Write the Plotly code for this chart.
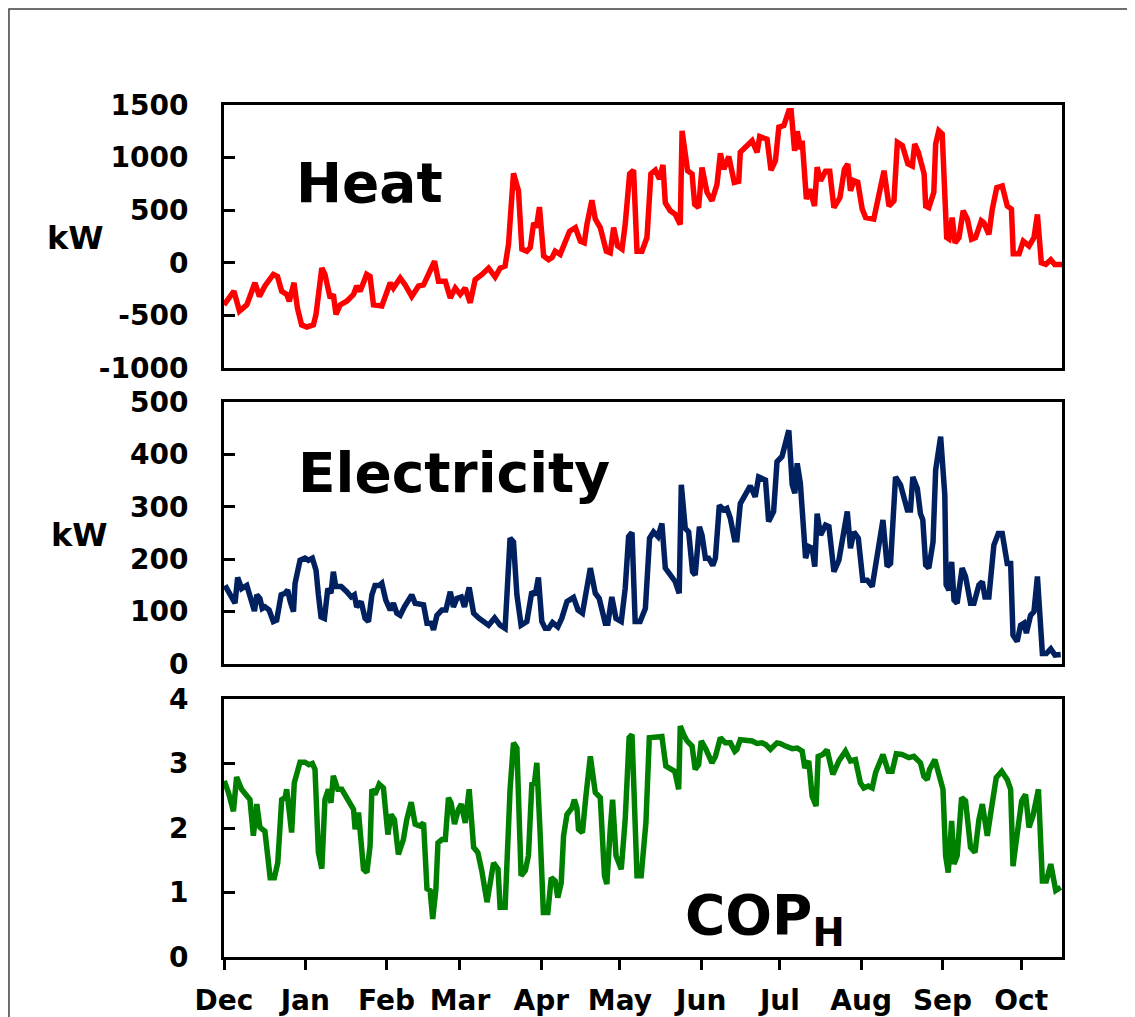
import pandas as pd
import plotly.graph_objects as go

# ---------------- data ----------------
start_date = "2012-12-01"
end_date = "2013-10-16 14:00"
month_starts = ["2012-12-01", "2013-01-01", "2013-02-01", "2013-03-01", "2013-04-01",
                "2013-05-01", "2013-06-01", "2013-07-01", "2013-08-01", "2013-09-01",
                "2013-10-01"]
month_labels = ["Dec", "Jan", "Feb", "Mar", "Apr", "May", "Jun", "Jul", "Aug", "Sep", "Oct"]

heat_day = [0, 3.8, 5.9, 8.7, 11.8, 13.5, 15.6, 18.8, 20.4, 22, 23.9, 24.9, 26.7, 28, 29.6, 31.6,
            34.1, 35.1, 37.3, 38.5, 40.5, 41.7, 42.7, 44.3, 46.8, 49.4, 50.6, 51.9, 54.4, 55.7, 57,
            60.2, 63.4, 64.6, 67.2, 69.1, 71.6, 74.2, 76.1, 78, 80.3, 81.8, 84.4, 86.3, 88.2, 90.1,
            92, 93.9, 95.8, 98.4, 100.9, 103.4, 105.3, 107.2, 108.5, 110.4, 112.3, 113.6, 115.5,
            116.8, 118.1, 119.1, 120.3, 121.9, 123.8, 125.1, 126.3, 128.2, 130.1, 131.8, 134,
            135.9, 137.4, 138.4, 140.3, 141.6, 143.5, 145.8, 147.3, 148.6, 150.1, 151.8, 153,
            154.7, 156.2, 157.5, 159.4, 161.3, 162.8, 164.5, 166.1, 167.4, 168.3, 170.2, 172.1,
            174, 174.7, 176.8, 178.5, 179.5, 181, 182.3, 184.2, 186.1, 188, 189.3, 190.6, 192.5,
            194.6, 196.3, 196.9, 198.8, 201.4, 203.3, 204.3, 207.1, 208.6, 210.3, 211.6, 213.5,
            215.4, 216.3, 217.6, 218.6, 219.9, 220.5, 222.1, 223.4, 224.3, 225.2, 226.2, 227.5,
            229.4, 231, 232.6, 234.9, 236.6, 237.9, 238.9, 240.2, 241.7, 243.4, 244.7, 246.6,
            247.8, 249.8, 251.7, 253.6, 255.5, 256.8, 258.7, 260.8, 262.5, 263.4, 264.8, 267,
            267.6, 268.8, 270.7, 271.4, 272.6, 273.9, 275.6, 276.5, 277.7, 278.8, 280.3, 281.9,
            283.5, 285.1, 286.6, 288.8, 289.8, 291.7, 293, 294.7, 296.8, 298.7, 300.3, 301,
            303.2, 304.8, 307, 308.9, 310.2, 311.7, 313.4, 315.3, 316.8, 319.7]
heat_kw = [-400, -270, -460, -400, -190, -320, -220, -110, -130, -270, -300, -365, -190, -430,
           -590, -610, -590, -490, -50, -110, -335, -300, -490, -400, -365, -300, -220, -270,
           -110, -130, -400, -410, -190, -240, -145, -210, -320, -220, -210, -110, 15, -175,
           -175, -335, -240, -300, -240, -380, -160, -110, -50, -135, -50, -30, 175, 850, 685,
           130, 110, 145, 380, 335, 530, 65, 30, 50, 110, 80, 190, 300, 335, 205, 190, 365, 595,
           415, 335, 110, 95, 335, 160, 130, 365, 845, 880, 110, 110, 240, 845, 880, 795, 930,
           570, 495, 460, 365, 1255, 875, 845, 555, 525, 905, 670, 590, 745, 1040, 890, 1010,
           765, 775, 1050, 1095, 1160, 1050, 1200, 1175, 880, 970, 1290, 1305, 1445, 1445, 1065,
           1250, 1080, 1160, 605, 700, 620, 540, 910, 780, 870, 870, 525, 620, 890, 940, 685,
           780, 765, 510, 430, 415, 415, 650, 875, 540, 590, 1145, 1115, 940, 920, 1130, 1050,
           845, 540, 525, 670, 1130, 1255, 1225, 240, 225, 430, 190, 240, 495, 415, 225, 240,
           400, 380, 270, 510, 715, 730, 540, 510, 85, 85, 205, 160, 240, 460, 0, -15, 30, -15,
           -15]

elec_day = [0.4, 2.3, 4.2, 5.2, 6.7, 8.7, 9.9, 11.6, 12.5, 13.7, 14.6, 15.6, 17.2, 18.8, 20.1,
            21.8, 23.3, 24.3, 25.2, 26.5, 27.1, 29, 30.9, 32.2, 33.7, 35.1, 36, 37, 38.3, 39.6,
            40.8, 41.7, 42.6, 44.7, 46.8, 48.5, 49.7, 50.6, 52.3, 53.8, 55.1, 56.4, 57.6, 59.3,
            60.2, 61.7, 63.4, 64.6, 65.9, 67.2, 68.8, 71.6, 72.9, 76.1, 77.4, 79, 79.9, 81.2,
            83.1, 84.6, 86.3, 87.5, 88.8, 90.5, 91.7, 93.5, 95.2, 97.1, 100.9, 103.2, 105.3,
            107.2, 109.1, 110.4, 111.7, 113.3, 115.5, 117.4, 118.7, 119.9, 121.2, 122.5, 123.8,
            125.3, 127.3, 128.8, 130.8, 133.3, 135, 136.7, 139.7, 141.6, 143.1, 145.4, 146.4,
            147.9, 149.5, 151.5, 153, 154.3, 155.6, 156.8, 158.7, 160.7, 162.3, 163.8, 165.5,
            167, 168.3, 170.6, 172.1, 173.6, 174.4, 175.9, 177.2, 178.7, 179.7, 181.3, 182.3,
            183.6, 184.8, 186.4, 187.4, 188.9, 190.5, 191.8, 193.1, 194.7, 195.6, 196.9, 198.8,
            200.7, 202.6, 203.9, 206.5, 207.7, 209.6, 210.9, 212.8, 214.1, 215.4, 216.7, 217.7,
            218.6, 219.8, 221.8, 223, 224.3, 225.3, 226.2, 227.5, 229.4, 230.7, 232.6, 234.5,
            237.7, 238.9, 240.2, 241.9, 243.6, 245.3, 247.2, 249.1, 251.3, 252.9, 254.2, 256.1,
            258, 260.6, 261.8, 262.7, 264.4, 265.6, 266.5, 267.6, 268.8, 270.4, 271.4, 273.3,
            274.9, 275.4, 276.5, 277.5, 278.4, 279.6, 281.5, 282.8, 284.7, 286, 287.9, 289.2,
            290.2, 291.7, 293.6, 295.3, 296.8, 298.7, 300, 300.9, 302.5, 303.8, 305.1, 306,
            307.6, 308.9, 310.2, 312.1, 313.6, 315.3, 316.9, 319.1]
elec_kw = [150, 132, 116, 165, 144, 150, 132, 101, 132, 125, 106, 109, 103, 81, 84, 132, 135,
           141, 120, 100, 154, 198, 202, 198, 202, 179, 132, 90, 87, 144, 135, 176, 148, 148,
           138, 128, 132, 109, 119, 87, 81, 132, 150, 150, 154, 122, 103, 116, 97, 93, 109, 132,
           116, 113, 78, 78, 65, 93, 103, 103, 138, 109, 125, 128, 109, 146, 97, 88, 74, 88, 74,
           68, 240, 233, 132, 74, 81, 138, 132, 165, 81, 68, 68, 79, 71, 87, 119, 127, 103, 97,
           183, 135, 125, 78, 78, 128, 87, 81, 144, 243, 251, 81, 81, 106, 240, 252, 243, 268,
           183, 165, 157, 135, 342, 259, 252, 176, 170, 262, 246, 202, 202, 188, 202, 303, 294,
           297, 278, 237, 237, 306, 322, 340, 319, 357, 351, 272, 291, 386, 396, 424, 446, 342,
           326, 383, 345, 202, 224, 221, 186, 287, 246, 265, 262, 176, 198, 291, 221, 252, 240,
           160, 160, 148, 208, 275, 186, 192, 357, 342, 294, 294, 357, 335, 287, 275, 189, 183,
           233, 370, 434, 322, 151, 141, 195, 122, 116, 183, 167, 116, 116, 151, 157, 128, 128,
           227, 249, 249, 192, 192, 55, 43, 74, 78, 59, 93, 100, 167, 20, 20, 29, 17, 18]

cop_day = [0.1, 1.7, 3.6, 4.8, 6.7, 8.7, 9.9, 11.2, 12.5, 13.7, 15.6, 17.6, 19.2, 20.5, 21.4,
           22, 23.3, 23.9, 25.8, 26.8, 29, 30.9, 32.4, 33.7, 34.7, 36, 37.3, 38.5, 39.8, 40.8,
           41.7, 43.4, 44.9, 46.8, 48.1, 49.4, 50, 51.3, 53.2, 54.5, 55.7, 56.4, 57.6, 59.2, 60.8,
           62.5, 63.7, 65, 66.5, 68.4, 69.7, 71.4, 72.9, 74.8, 76.1, 77.4, 78.6, 79.6, 80.8, 81.6,
           83.1, 84.4, 85.6, 86.6, 87.9, 89.4, 90.5, 92, 93.5, 95.2, 96.8, 98.3, 100.3, 101.5,
           102.8, 104.5, 105.3, 107.2, 109.1, 110.4, 111.7, 113.3, 114.9, 116.1, 117.4, 118.4,
           119.3, 120.6, 121.8, 123.5, 124.8, 126.3, 127.3, 128.6, 129.5, 130.8, 132.7, 133.6,
           134.6, 135.2, 136.7, 138, 139.7, 141.6, 143.5, 145.1, 146, 147.3, 148.2, 149.5, 151.5,
           153, 154.5, 155.6, 157.5, 159.1, 160.9, 162.2, 163.8, 165.5, 167, 168.5, 170.2, 171.9,
           173.4, 174, 175.3, 176.6, 178.5, 179.7, 181, 182, 183.8, 186.1, 187.4, 189.3, 191.2,
           193.1, 194.8, 195.6, 196.9, 199.5, 201.4, 203.3, 205.2, 206.7, 208.4, 210.9, 212.2,
           214.1, 216.7, 218.6, 220.5, 221.5, 223, 224.3, 225.8, 226.6, 228.4, 230, 232.2, 234.5,
           237, 238.9, 240.8, 242.7, 244, 245.7, 247.2, 248.5, 251.3, 253.3, 254.8, 256.4, 258.6,
           261.2, 263.1, 265.6, 266.9, 268.2, 269.1, 271.1, 272.6, 274.2, 275.2, 276.2, 277.5,
           278.4, 279.6, 281.3, 282.8, 284.7, 286.4, 287.9, 289.2, 291.1, 292.7, 294.5, 296.6,
           298.7, 300, 300.9, 302.2, 304.2, 305.7, 307, 308.5, 310.6, 312.1, 313.6, 315.3, 317.2,
           319.1]
cop_val = [2.73, 2.55, 2.26, 2.79, 2.60, 2.49, 2.44, 1.88, 2.37, 2.01, 1.95, 1.23, 1.23, 1.46,
           1.98, 2.44, 2.47, 2.60, 1.93, 2.70, 3.02, 3.02, 2.98, 3.00, 2.91, 1.62, 1.37, 2.44,
           2.60, 2.39, 2.81, 2.60, 2.60, 2.47, 2.39, 2.29, 1.98, 2.24, 1.36, 1.31, 1.72, 2.60,
           2.52, 2.68, 2.62, 1.90, 2.21, 2.13, 1.59, 1.82, 2.13, 2.40, 2.06, 2.03, 2.08, 1.06,
           1.03, 0.59, 1.05, 1.77, 1.82, 1.82, 2.47, 2.39, 2.06, 2.29, 2.37, 2.08, 2.60, 1.70,
           1.62, 1.34, 0.85, 1.21, 1.46, 1.36, 0.77, 0.77, 2.60, 3.32, 3.24, 1.26, 1.34, 1.57,
           2.68, 2.70, 3.01, 1.88, 0.69, 0.69, 1.23, 1.18, 0.92, 1.15, 1.88, 2.21, 2.31, 2.44,
           2.31, 1.98, 1.93, 2.49, 3.11, 2.55, 2.47, 1.26, 1.13, 1.98, 2.44, 1.57, 1.36, 2.13,
           3.40, 3.45, 1.26, 1.26, 2.08, 3.40, 3.40, 3.40, 3.42, 2.96, 2.91, 2.88, 2.60, 3.58,
           3.45, 3.35, 3.27, 2.91, 2.98, 3.35, 3.22, 3.01, 3.11, 3.40, 3.32, 3.32, 3.19, 3.22,
           3.37, 3.35, 3.35, 3.31, 3.32, 3.29, 3.22, 3.32, 3.31, 3.27, 3.23, 3.24, 3.19, 2.93,
           3.04, 2.49, 2.34, 3.11, 3.14, 3.21, 2.83, 3.04, 3.19, 3.04, 3.06, 2.70, 2.62, 2.65,
           2.62, 2.86, 3.14, 2.88, 2.88, 3.15, 3.14, 3.09, 3.11, 3.01, 2.80, 2.75, 2.91, 3.06,
           2.86, 2.60, 1.57, 1.31, 2.11, 1.44, 1.57, 2.47, 2.42, 1.70, 1.62, 2.13, 2.37, 1.88,
           2.31, 2.78, 2.88, 2.75, 2.60, 1.41, 1.82, 2.42, 2.52, 2.01, 2.19, 2.60, 1.18, 1.18,
           1.44, 1.03, 1.08]

heat_ticks = [-1000, -500, 0, 500, 1000, 1500]
heat_tick_labels = ["-1000", "-500", "0", "500", "1000", "1500"]
elec_ticks = [0, 100, 200, 300, 400, 500]
cop_ticks = [0, 1, 2, 3, 4]


def to_dates(days):
    return pd.Timestamp(start_date) + pd.to_timedelta(days, unit="D")


FONT = "DejaVu Sans"
tickfont = dict(family=FONT, size=28, color="black", weight="bold")
LW = 5.5

fig = go.Figure()
fig.add_trace(go.Scatter(x=to_dates(heat_day), y=heat_kw, mode="lines",
                         line=dict(color="#FF0000", width=LW), xaxis="x", yaxis="y",
                         showlegend=False))
fig.add_trace(go.Scatter(x=to_dates(elec_day), y=elec_kw, mode="lines",
                         line=dict(color="#002060", width=LW), xaxis="x2", yaxis="y2",
                         showlegend=False))
fig.add_trace(go.Scatter(x=to_dates(cop_day), y=cop_val, mode="lines",
                         line=dict(color="#008000", width=LW), xaxis="x3", yaxis="y3",
                         showlegend=False))

frame = dict(showline=True, mirror=True, linewidth=3, linecolor="black",
             showgrid=False, zeroline=False, automargin=False)
xr = [start_date, end_date]
xcommon = dict(type="date", range=xr, **frame)


def yaxis(domain, rng, ticks, labels=None):
    d = dict(domain=domain, range=rng, tickvals=ticks, ticks="inside", ticklen=11,
             tickwidth=3, tickcolor="black", tickfont=tickfont, ticklabelstandoff=27,
             **frame)
    if labels is not None:
        d["ticktext"] = labels
    return d


# the page body adds an 8 px offset, so the figure is 8 px smaller and margins shifted
fig.update_layout(
    width=1127, height=1009, autosize=False,
    margin=dict(l=216, r=73, t=97, b=60),
    paper_bgcolor="white", plot_bgcolor="white",
    xaxis=dict(anchor="y", showticklabels=False, ticks="", **xcommon),
    xaxis2=dict(anchor="y2", showticklabels=False, ticks="", matches="x", **xcommon),
    xaxis3=dict(anchor="y3", matches="x", tickvals=month_starts, ticktext=month_labels,
                ticks="outside", ticklen=10, tickwidth=3, tickcolor="black",
                tickfont=tickfont, ticklabelstandoff=6, **xcommon),
    yaxis=yaxis([0.6913, 1.0], [-1000, 1500], heat_ticks, heat_tick_labels),
    yaxis2=yaxis([0.3439, 0.6514], [0, 500], elec_ticks),
    yaxis3=yaxis([0.0, 0.3028], [0, 4], cop_ticks),
)

big = dict(family=FONT, size=55, color="black", weight="bold")
unit = dict(family=FONT, size=32, color="black", weight="bold")
fig.add_annotation(text="Heat", x=0.1742, y=0.9085, xref="paper", yref="paper",
                   xanchor="center", yanchor="middle", showarrow=False, font=big)
fig.add_annotation(text="Electricity", x=0.2745, y=0.568, xref="paper", yref="paper",
                   xanchor="center", yanchor="middle", showarrow=False, font=big)
fig.add_annotation(text="COP<sub>H</sub>", x=0.5477, y=0.045, xref="paper", yref="paper",
                   xanchor="left", yanchor="middle", showarrow=False, font=big)
fig.add_annotation(text="kW", x=-0.1778, y=0.8439, xref="paper", yref="paper",
                   xanchor="center", yanchor="middle", showarrow=False, font=unit)
fig.add_annotation(text="kW", x=-0.173, y=0.4953, xref="paper", yref="paper",
                   xanchor="center", yanchor="middle", showarrow=False, font=unit)

# thin outer frame of the original figure
fig.add_shape(type="rect", xref="paper", yref="paper", x0=-0.2566, x1=1.2, y0=-0.2, y1=1.1127,
              line=dict(color="#404040", width=1.5), fillcolor="rgba(0,0,0,0)")

fig.write_html("out.html")
